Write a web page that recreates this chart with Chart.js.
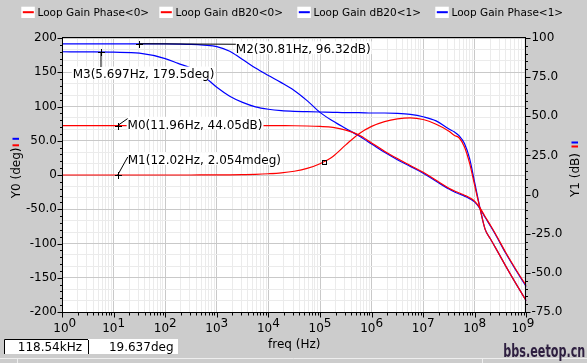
<!DOCTYPE html>
<html>
<head>
<meta charset="utf-8">
<title>Loop Gain</title>
<script src="https://cdn.jsdelivr.net/npm/chart.js@4.4.0/dist/chart.umd.min.js"></script>
<style>
    html, body { margin: 0; padding: 0; background: #cccccc; }
    #wrap { position: relative; width: 587px; height: 363px; }
</style>
</head>
<body>
<div id="wrap"><canvas id="myChart" width="587" height="363"></canvas></div>
<script>
// values
var freqHz = [1, 3.16, 10, 31.6, 100, 178, 316, 562, 1e3, 1.78e3, 3.16e3, 5.62e3, 1e4, 1.78e4, 3.16e4, 5.62e4,
    1e5, 1.78e5, 3.16e5, 5.62e5, 1e6, 1.78e6, 3.16e6, 5.62e6, 1e7, 1.78e7, 3.16e7, 3.98e7, 5.01e7, 6.31e7, 7.94e7,
    1e8, 1.26e8, 1.58e8, 2e8, 2.51e8, 3.98e8, 6.31e8, 1e9];
var phase0 = [0, 0, 0, 0, 0, 0, 0, 0.1, 0.2, 0.3, 0.6, 1.0, 1.8, 3.1, 5.5, 9.6,
    16.5, 27, 44, 60, 71, 78, 82, 83.5, 81, 74, 64, 58, 54, 41, 17,
    -16, -49, -79, -93, -106, -133, -159, -184];
var db0 = [44.05, 44.05, 44.05, 44.05, 44.05, 44.05, 44.05, 44.05, 44.05, 44.05, 44.05, 44.05, 44.05, 44.0, 43.95, 43.8,
    43.5, 42.9, 41.2, 38.2, 33, 27.7, 23, 18.6, 14.2, 9.1, 4.1, 2.4, 1.0, -0.4, -2.0,
    -4.3, -8.5, -14, -19.5, -25, -37, -48, -58.3];
var db1 = [96.3, 96.3, 96.3, 96.3, 96.2, 96.1, 95.9, 95.4, 94.5, 91.5, 86.3, 80.8, 76, 71.5, 66.5, 60,
    52.5, 47, 42.2, 37.5, 32.3, 27, 22.3, 18, 13.6, 8.5, 3.5, 1.8, 0.4, -1.0, -2.6,
    -4.8, -9, -14.5, -20, -25.5, -37.5, -48.5, -59];
var phase1 = [179.9, 179.7, 179.3, 177.8, 170, 163, 156, 144, 128, 115, 106, 99.5, 96, 94, 93, 92.5,
    92, 91.5, 91, 91, 90.5, 90.5, 90, 88.5, 85, 79, 67, 63, 57, 46, 24,
    -12, -48, -79, -93, -106, -133, -159, -184];

var seriesNames = ['Loop Gain Phase<0>', 'Loop Gain dB20<0>', 'Loop Gain dB20<1>', 'Loop Gain Phase<1>'];
var decades = [0, 1, 2, 3, 4, 5, 6, 7, 8, 9];
var phaseTicks = [200, 150, 100, 50, 0, -50, -100, -150, -200];
var phaseLabels = ['200', '150', '100', '50.0', '0', '-50.0', '-100', '-150', '-200'];
var dbTicks = [100, 75, 50, 25, 0, -25, -50, -75];
var dbLabels = ['100', '75.0', '50.0', '25.0', '0', '-25.0', '-50.0', '-75.0'];

// markers
var markerText = ['M0(11.96Hz, 44.05dB)', 'M1(12.02Hz, 2.054mdeg)', 'M2(30.81Hz, 96.32dB)', 'M3(5.697Hz, 179.5deg)'];
var markerFreq = [11.96, 12.02, 30.81, 5.697];
var markerVal = [44.05, 0.002054, 96.32, 179.5];
var markerAxis = ['y1', 'y', 'y1', 'y'];
var cursorFreq = 118.54e3;
var cursorPhase = 19.637;
var cursorText = ['118.54kHz', '19.637deg'];

var RED = '#ff0000', BLUE = '#0000ff';
var MAJOR = '#c9c9c9', MINOR = '#ebebeb';
var FONT = '12px "DejaVu Sans"';

function pts(vals) {
    return freqHz.map(function (f, i) { return { x: f, y: vals[i] }; });
}

// where each marker label sits relative to its marker (text left, baseline, leader end)
var markerStyle = [
    { dx: 10, dy: 3, lx: 10, ly: -7 },
    { dx: 10, dy: -11, lx: 10, ly: -18 },
    { dx: 97, dy: 9.4, lx: 97, ly: 0.5 },
    { dx: -28.3, dy: 26.3, lx: 0, ly: 15 }
];

function isDecade(v) {
    var l = Math.log10(v);
    return Math.abs(l - Math.round(l)) < 1e-9;
}

var overlay = {
    id: 'overlay',
    beforeDraw: function (chart) {
        var ctx = chart.ctx, a = chart.chartArea;
        ctx.save();
        ctx.fillStyle = '#fff';
        ctx.fillRect(a.left, a.top, a.right - a.left, a.bottom - a.top);
        ctx.restore();
    },
    afterDatasetsDraw: function (chart) {
        var ctx = chart.ctx, sx = chart.scales.x;
        ctx.save();
        ctx.font = FONT;
        ctx.lineWidth = 1;
        ctx.strokeStyle = '#000';
        ctx.fillStyle = '#000';
        for (var i = 0; i < markerText.length; i++) {
            var px = sx.getPixelForValue(markerFreq[i]);
            var py = chart.scales[markerAxis[i]].getPixelForValue(markerVal[i]);
            var st = markerStyle[i];
            var w = ctx.measureText(markerText[i]).width;
            var tx = px + st.dx, ty = py + st.dy;
            // label box
            ctx.fillStyle = '#fff';
            ctx.fillRect(tx - 1, ty - 11.8, w + 2, 12.8);
            // leader
            ctx.beginPath();
            ctx.moveTo(px, py);
            ctx.lineTo(px + st.lx, py + st.ly);
            ctx.stroke();
            // cross
            ctx.beginPath();
            ctx.moveTo(Math.round(px) - 3, Math.round(py) + 0.5);
            ctx.lineTo(Math.round(px) + 4, Math.round(py) + 0.5);
            ctx.moveTo(Math.round(px) + 0.5, Math.round(py) - 3);
            ctx.lineTo(Math.round(px) + 0.5, Math.round(py) + 4);
            ctx.stroke();
            ctx.fillStyle = '#000';
            ctx.fillText(markerText[i], tx, ty);
        }
        // cursor square
        var cx = Math.round(sx.getPixelForValue(cursorFreq));
        var cy = Math.round(chart.scales.y.getPixelForValue(cursorPhase));
        ctx.strokeRect(cx - 2 + 0.5, cy - 2 + 0.5, 4, 4);
        ctx.restore();
    },
    afterDraw: function (chart) {
        var ctx = chart.ctx, a = chart.chartArea;
        var sx = chart.scales.x, sy = chart.scales.y, sr = chart.scales.y1;
        var L = Math.round(a.left) + 0.5, R = Math.round(a.right) - 0.5;
        var T = Math.round(a.top) - 0.5, B = Math.round(a.bottom) + 0.5;
        ctx.save();
        ctx.strokeStyle = '#000';
        ctx.lineWidth = 1;
        ctx.strokeRect(L, T, R - L, B - T);

        // tick marks
        ctx.beginPath();
        var v, p, len;
        for (v = -200; v <= 200; v += 10) {
            p = Math.round(sy.getPixelForValue(v)) + 0.5;
            len = v % 50 === 0 ? 5 : 2.5;
            ctx.moveTo(L - len, p); ctx.lineTo(L, p);
        }
        for (v = -75; v <= 100; v += 5) {
            p = Math.round(sr.getPixelForValue(v)) + 0.5;
            len = v % 25 === 0 ? 5 : 2.5;
            ctx.moveTo(R, p); ctx.lineTo(R + len, p);
        }
        sx.ticks.forEach(function (t) {
            p = Math.round(sx.getPixelForValue(t.value)) + 0.5;
            len = isDecade(t.value) ? 5 : 3;
            ctx.moveTo(p, B); ctx.lineTo(p, B + len);
        });
        ctx.stroke();

        // x tick labels 10^n
        ctx.font = FONT;
        ctx.fillStyle = '#000';
        ctx.textBaseline = 'alphabetic';
        ctx.textAlign = 'left';
        decades.forEach(function (e, i) {
            var x = sx.getPixelForValue(Math.pow(10, e));
            var w1 = ctx.measureText('10').width, w2 = ctx.measureText(String(e)).width;
            var x0 = x - (w1 + w2) / 2;
            if (i === 0) x0 += 2.7;
            if (i === decades.length - 1) x0 -= 3.5;
            ctx.fillText('10', x0, 331.5);
            ctx.fillText(String(e), x0 + w1, 326.5);
        });

        // axis titles
        ctx.textAlign = 'center';
        ctx.fillText('freq (Hz)', (a.left + a.right) / 2, 348);
        ctx.textAlign = 'left';
        ctx.save();
        ctx.translate(19.5, 198.3);
        ctx.rotate(-Math.PI / 2);
        ctx.fillText('Y0 (deg)', 0, 0);
        ctx.fillStyle = RED; ctx.fillRect(52, -7, 2, 6.5);
        ctx.fillStyle = BLUE; ctx.fillRect(58.5, -7, 2, 6.5);
        ctx.restore();
        ctx.save();
        ctx.translate(578.5, 197);
        ctx.rotate(-Math.PI / 2);
        ctx.fillStyle = '#000';
        ctx.fillText('Y1 (dB)', 0, 0);
        ctx.fillStyle = RED; ctx.fillRect(49.5, -7, 2, 6.5);
        ctx.fillStyle = BLUE; ctx.fillRect(53.5, -7, 2, 6.5);
        ctx.restore();

        // legend
        var colors = [RED, RED, BLUE, BLUE];
        ctx.font = '10.5px "DejaVu Sans"';
        seriesNames.forEach(function (name, i) {
            var lx = 21.3 + i * 138;
            ctx.fillStyle = '#fff';
            ctx.fillRect(lx, 6.7, 13.5, 11.3);
            ctx.fillStyle = colors[i];
            ctx.fillRect(lx + 1.5, 11.2, 11, 2);
            ctx.fillStyle = '#000';
            ctx.fillText(name, lx + 16.2, 15.8);
        });

        // status boxes
        ctx.font = FONT;
        ctx.fillStyle = '#fff';
        ctx.fillRect(4, 339, 174, 15);
        ctx.beginPath();
        ctx.moveTo(4.5, 354); ctx.lineTo(4.5, 339.5); ctx.lineTo(88, 339.5);
        ctx.moveTo(88.5, 340); ctx.lineTo(88.5, 354);
        ctx.stroke();
        ctx.fillStyle = '#000';
        ctx.textAlign = 'right';
        ctx.fillText(cursorText[0], 82, 350.8);
        ctx.fillText(cursorText[1], 173.5, 350.8);
        ctx.strokeStyle = '#eeeeee';
        ctx.beginPath();
        ctx.moveTo(0, 358.5); ctx.lineTo(587, 358.5);
        ctx.moveTo(17.5, 359); ctx.lineTo(17.5, 363);
        ctx.moveTo(482.5, 359); ctx.lineTo(482.5, 363);
        ctx.stroke();

        // watermark
        ctx.textAlign = 'left';
        ctx.font = 'bold 17px "Liberation Sans Narrow", "DejaVu Sans Condensed", sans-serif';
        var ww = ctx.measureText('bbs.eetop.cn').width;
        ctx.save();
        ctx.translate(503.3, 356.7);
        ctx.scale(82 / ww, 1);
        ctx.fillStyle = '#2e1f40';
        ctx.fillText('bbs.eetop.cn', 0, 0);
        ctx.restore();
        ctx.restore();
    }
};

var xTicks = [];
for (var e = 0; e < 9; e++) {
    for (var m = 1; m < 10; m++) xTicks.push(m * Math.pow(10, e));
}
xTicks.push(1e9);

var ctx = document.getElementById('myChart').getContext('2d');
var myChart = new Chart(ctx, {
    type: 'line',
    data: {
        datasets: [
            { label: seriesNames[0], data: pts(phase0), yAxisID: 'y', borderColor: RED },
            { label: seriesNames[1], data: pts(db0), yAxisID: 'y1', borderColor: RED },
            { label: seriesNames[2], data: pts(db1), yAxisID: 'y1', borderColor: BLUE },
            { label: seriesNames[3], data: pts(phase1), yAxisID: 'y', borderColor: BLUE }
        ]
    },
    options: {
        responsive: false,
        animation: false,
        events: [],
        devicePixelRatio: 1,
        layout: { padding: { top: 38, left: 0, right: 0, bottom: 0 } },
        elements: {
            line: { borderWidth: 1.2, cubicInterpolationMode: 'monotone', fill: false },
            point: { radius: 0 }
        },
        plugins: { legend: { display: false }, tooltip: { enabled: false } },
        scales: {
            x: {
                type: 'logarithmic', position: 'bottom', min: 1, max: 1e9,
                afterBuildTicks: function (s) { s.ticks = xTicks.map(function (v) { return { value: v }; }); },
                afterFit: function (s) { s.height = 51; },
                ticks: { display: false },
                border: { display: false },
                grid: {
                    drawTicks: false,
                    color: function (c) { return isDecade(c.tick.value) ? MAJOR : MINOR; }
                }
            },
            yMinor: {
                position: 'left', min: -200, max: 200,
                afterBuildTicks: function (s) {
                    var t = [];
                    for (var k = 0; k <= 24; k++) t.push({ value: -200 + k * 50 / 3 });
                    s.ticks = t;
                },
                afterFit: function (s) { s.width = 0; },
                ticks: { display: false },
                border: { display: false },
                grid: {
                    drawTicks: false,
                    color: function (c) { return c.index % 3 === 0 ? 'rgba(0,0,0,0)' : MINOR; }
                }
            },
            y: {
                position: 'left', min: -200, max: 200,
                afterBuildTicks: function (s) {
                    s.ticks = phaseTicks.map(function (v) { return { value: v }; });
                },
                afterFit: function (s) { s.width = 62; },
                border: { display: false },
                grid: { drawTicks: false, color: MAJOR },
                ticks: {
                    padding: 5, color: '#000', font: { family: 'DejaVu Sans', size: 12 },
                    callback: function (v) { return phaseLabels[phaseTicks.indexOf(v)]; }
                }
            },
            y1: {
                position: 'right', min: -75, max: 100,
                afterBuildTicks: function (s) {
                    s.ticks = dbTicks.map(function (v) { return { value: v }; });
                },
                afterFit: function (s) { s.width = 60.6; },
                border: { display: false },
                grid: { drawTicks: false, drawOnChartArea: false },
                ticks: {
                    padding: 5, color: '#000', font: { family: 'DejaVu Sans', size: 12 },
                    callback: function (v) { return dbLabels[dbTicks.indexOf(v)]; }
                }
            }
        }
    },
    plugins: [overlay]
});
</script>
</body>
</html>
